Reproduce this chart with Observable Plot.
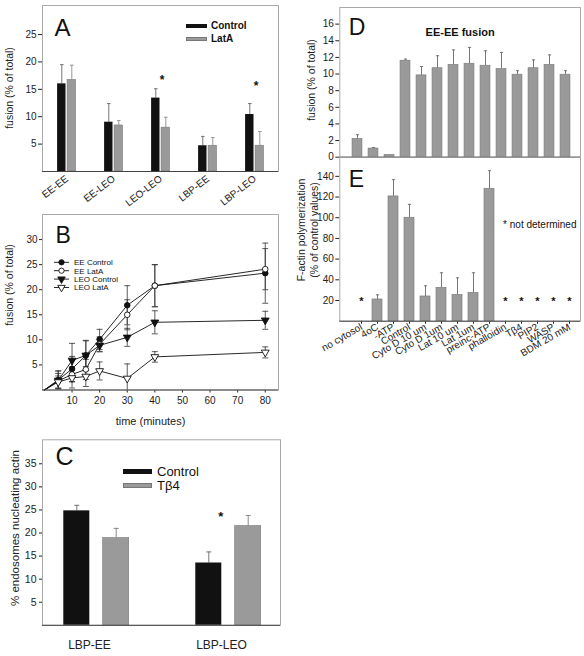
<!DOCTYPE html>
<html><head><meta charset="utf-8">
<script src="https://cdn.jsdelivr.net/npm/d3@7"></script>
<script src="https://cdn.jsdelivr.net/npm/@observablehq/plot@0.6"></script>
<style>
body{margin:0;background:#fff;}
#fig{position:relative;width:584px;height:656px;background:#fff;font-family:"Liberation Sans",Arial,Helvetica,sans-serif;color:#222;overflow:hidden}
.lg{position:absolute;white-space:nowrap}
.vl{position:absolute;white-space:pre;text-align:center;transform:translate(-50%,-50%) rotate(-90deg);color:#222}
</style></head><body><div id="fig"></div>
<script>
// ---------- Panel A data ----------
const groupsA = ["EE-EE","EE-LEO","LEO-LEO","LBP-EE","LBP-LEO"];
const controlA = [16.0, 9.0, 13.4, 4.7, 10.4];
const controlErrA = [3.5, 3.4, 1.7, 1.7, 2.0];
const latA = [16.7, 8.4, 8.0, 4.7, 4.7];
const latErrA = [2.7, 0.9, 1.9, 1.5, 2.6];
const starA = [null, null, 17.3, null, 16.2];

// ---------- Panel B data ----------
const timesB = [5, 10, 15, 20, 30, 40, 80];
const eeControl = [2.0, 4.2, 6.9, 10.1, 16.9, 20.8, 23.3];
const eeControlErr = [1.8, 2.5, 3.0, 2.0, 3.9, 4.2, 6.0];
const eeLatA = [1.8, 3.1, 4.1, 9.1, 15.0, 20.8, 24.1];
const eeLatAErr = [1.5, 1.5, 2.0, 1.5, 3.0, 4.2, 4.1];
const leoControl = [1.9, 5.9, 6.9, 8.9, 10.5, 13.5, 13.9];
const leoControlErr = [1.9, 3.4, 2.9, 1.2, 1.8, 2.3, 1.8];
const leoLatA = [1.6, 2.4, 2.7, 3.8, 2.3, 6.6, 7.5];
const leoLatAErr = [1.2, 2.0, 2.0, 1.8, 2.9, 1.05, 1.1];

// ---------- Panel C data ----------
const groupsC = ["LBP-EE","LBP-LEO"];
const controlC = [24.8, 13.5];
const controlErrC = [1.2, 2.4];
const tb4C = [18.9, 21.5];
const tb4ErrC = [2.1, 2.3];
const starC = [null, 24.1];

// ---------- Panels D / E data ----------
const catsDE = ["no cytosol","4oC","-ATP","Control","Cyto D 10 um","Cyto D 1um","Lat 10 um","Lat 1um","preinc-ATP","phalloidin","Tβ4","PIP2","WASP","BDM 20 mM"];
const fusionD = [2.2, 1.04, 0.28, 11.6, 9.84, 10.7, 11.1, 11.24, 11.0, 10.6, 9.92, 10.7, 11.1, 9.92];
const fusionErrD = [0.5, 0.12, 0, 0.2, 1.06, 1.5, 1.8, 1.96, 1.8, 2.0, 0.48, 1.0, 1.2, 0.48];
const actinE = [null, 21, 120.6, 100, 23.9, 32.3, 25.5, 27.4, 128, null, null, null, null, null];
const actinErrE = [null, 4.5, 16.2, 12.9, 10.3, 14.5, 16.4, 19.4, 17.5, null, null, null, null, null];

// ---------- helpers ----------
const fig = document.getElementById("fig");
const FONT = '"Liberation Sans", Arial, Helvetica, sans-serif';
const GRAY = "#9a9a9a", GRAYS = "#777", FRAME = "#aaa", AXIS = "#444", WHISK = "#777";
function place(svg, left, top) {
  svg.style.position = "absolute"; svg.style.left = left + "px"; svg.style.top = top + "px";
  svg.style.maxWidth = "none"; svg.style.background = "transparent"; svg.style.overflow = "visible";
  fig.appendChild(svg);
}
const capSym = {draw(ctx, size) { const r = Math.sqrt(size / Math.PI); ctx.moveTo(-r, 0); ctx.lineTo(r, 0); }};
function ins(bw, off, w) { return {insetLeft: bw / 2 + off - w / 2, insetRight: bw / 2 - off - w / 2}; }
function vLabel(t, cx, cy, fs, lh) {
  const d = document.createElement("div");
  d.className = "vl"; d.textContent = t;
  Object.assign(d.style, {left: cx + "px", top: cy + "px", fontSize: fs + "px", lineHeight: (lh || fs * 1.2) + "px"});
  fig.appendChild(d);
}
function letter(t, dx, dy, fs) { return Plot.text([t], {text: d => d, frameAnchor: "top-left", textAnchor: "start", lineAnchor: "top", dx, dy, fontSize: fs, fill: "#111"}); }
function errMarks(rows, x, v, e, off, color, capR) {
  return [
    Plot.ruleX(rows.filter(d => d[e] > 0), {x, y1: v, y2: d => d[v] + d[e], dx: off, stroke: color, strokeWidth: 1}),
    Plot.dot(rows.filter(d => d[e] > 0), {x, y: d => d[v] + d[e], dx: off, symbol: capSym, r: capR, stroke: color, strokeWidth: 1})
  ];
}
function legendSwatch(left, top, w, h, color, border) {
  const d = document.createElement("div");
  d.className = "lg"; Object.assign(d.style, {left: left + "px", top: top + "px", width: w + "px", height: h + "px", background: color, boxSizing: "border-box", border: border ? "1px solid " + border : "none"});
  fig.appendChild(d);
}
function legendText(left, cy, text, fs, weight) {
  const d = document.createElement("div");
  d.className = "lg"; d.textContent = text;
  Object.assign(d.style, {left: left + "px", top: (cy - fs * 0.6) + "px", fontSize: fs + "px", lineHeight: (fs * 1.2) + "px", fontWeight: weight || "normal", color: "#111"});
  fig.appendChild(d);
}

// ---------- Panel A ----------
const rowsA = groupsA.map((g, i) => ({g, ctl: controlA[i], ctlErr: controlErrA[i], lat: latA[i], latErr: latErrA[i], star: starA[i]}));
const bwA = (278 - 42) / groupsA.length;
place(Plot.plot({
  width: 290, height: 215, marginLeft: 42, marginRight: 12, marginTop: 5, marginBottom: 44,
  style: {fontFamily: FONT, fontSize: "10px", color: "#222"},
  x: {domain: groupsA, padding: 0, label: null, tickRotate: -38, tickSize: 0, tickPadding: 6},
  y: {domain: [0, 30.3], label: null, ticks: [5, 10, 15, 20, 25], tickSize: 4, tickPadding: 2},
  marks: [
    Plot.frame({stroke: FRAME}),
    ...errMarks(rowsA, "g", "ctl", "ctlErr", -5.2, WHISK, 1.8),
    ...errMarks(rowsA, "g", "lat", "latErr", 4.8, "#999", 1.8),
    Plot.barY(rowsA, {x: "g", y: "ctl", fill: "#111", ...ins(bwA, -5.2, 8.6)}),
    Plot.barY(rowsA, {x: "g", y: "lat", fill: GRAY, stroke: GRAYS, strokeWidth: 0.6, ...ins(bwA, 4.8, 8.6)}),
    Plot.text(rowsA.filter(d => d.star != null), {x: "g", y: "star", text: () => "*", dx: 1, dy: 3, fontSize: 12, fontWeight: "bold", fill: "#111"}),
    Plot.ruleY([0], {stroke: AXIS}),
    letter("A", 12, 13.3, 24)
  ]
}), 0, 0);
vLabel("fusion (% of total)", 9, 88, 10.5);
legendSwatch(186, 24, 21, 4, "#111");
legendText(211, 26, "Control", 10, "bold");
legendSwatch(186, 37, 21, 4, GRAY, GRAYS);
legendText(211, 39, "LatA", 10, "bold");

// ---------- Panel B ----------
const seriesB = [
  {name: "EE Control", v: eeControl, e: eeControlErr, symbol: "circle", fill: "#111", rotate: 0},
  {name: "EE LatA", v: eeLatA, e: eeLatAErr, symbol: "circle", fill: "white", rotate: 0},
  {name: "LEO Control", v: leoControl, e: leoControlErr, symbol: "triangle", fill: "#111", rotate: 180},
  {name: "LEO LatA", v: leoLatA, e: leoLatAErr, symbol: "triangle", fill: "white", rotate: 180}
];
const ptsB = seriesB.flatMap(s => timesB.map((t, i) => ({s: s.name, t, v: s.v[i], e: s.e[i]})));
const linesB = seriesB.flatMap(s => [{s: s.name, t: 0, v: 0}, ...timesB.map((t, i) => ({s: s.name, t, v: s.v[i]}))]);
place(Plot.plot({
  width: 290, height: 235, marginLeft: 42, marginRight: 12, marginTop: 14, marginBottom: 45.5,
  style: {fontFamily: FONT, fontSize: "10px", color: "#222"},
  x: {domain: [-0.7, 84.8], ticks: [10, 20, 30, 40, 50, 60, 70, 80], tickSize: 3, tickPadding: 4, label: null},
  y: {domain: [0, 35], ticks: [5, 10, 15, 20, 25, 30], tickSize: 3, tickPadding: 2, label: null},
  marks: [
    Plot.frame({stroke: FRAME}),
    Plot.line(linesB, {x: "t", y: "v", z: "s", stroke: "#111", strokeWidth: 0.9}),
    Plot.ruleX(ptsB, {x: "t", y1: d => d.v - d.e, y2: d => d.v + d.e, stroke: "#333", strokeWidth: 0.8, clip: true}),
    Plot.dot(ptsB, {x: "t", y: d => d.v + d.e, symbol: capSym, r: 3, stroke: "#333", strokeWidth: 0.8}),
    Plot.dot(ptsB.filter(d => d.v - d.e > 0), {x: "t", y: d => d.v - d.e, symbol: capSym, r: 3, stroke: "#333", strokeWidth: 0.8}),
    ...seriesB.map(s => Plot.dot(ptsB.filter(d => d.s === s.name), {x: "t", y: "v", symbol: s.symbol, rotate: s.rotate, r: s.symbol === "circle" ? 2.8 : 2.9, fill: s.fill, stroke: "#111", strokeWidth: 0.9})),
    Plot.ruleY([0], {stroke: AXIS}),
    Plot.text(["time (minutes)"], {text: d => d, frameAnchor: "bottom", dy: 35, dx: -10, fontSize: 11, fill: "#222"}),
    letter("B", 13, 11.7, 23)
  ]
}), 0, 200);
vLabel("fusion (% of total)", 9, 285, 10.5);
// legend B
(function () {
  const svg = d3.create("svg").attr("width", 90).attr("height", 40)
    .style("position", "absolute").style("left", "50px").style("top", "255px").style("overflow", "visible");
  seriesB.forEach((s, i) => {
    const y = 7.3 + i * 8.4;
    svg.append("line").attr("x1", 4).attr("x2", 19).attr("y1", y).attr("y2", y).attr("stroke", "#111").attr("stroke-width", 0.9);
    const sym = s.symbol === "circle" ? d3.symbolCircle : d3.symbolTriangle;
    svg.append("path").attr("d", d3.symbol(sym, s.symbol === "circle" ? 22 : 24)())
      .attr("transform", `translate(11.5,${y}) rotate(${s.rotate})`).attr("fill", s.fill).attr("stroke", "#111").attr("stroke-width", 0.9);
    svg.append("text").attr("x", 24).attr("y", y).attr("dy", "0.35em").attr("font-size", 8).attr("font-family", FONT).attr("fill", "#111").text(s.name);
  });
  fig.appendChild(svg.node());
})();

// ---------- Panel C ----------
const rowsC = groupsC.map((g, i) => ({g, ctl: controlC[i], ctlErr: controlErrC[i], tb: tb4C[i], tbErr: tb4ErrC[i], star: starC[i]}));
const bwC = 132;
place(Plot.plot({
  width: 290, height: 226, marginLeft: 42, marginRight: 10, marginTop: 9.3, marginBottom: 31.2,
  style: {fontFamily: FONT, fontSize: "10.5px", color: "#222"},
  x: {domain: groupsC, range: [29.8, 29.8 + 2 * bwC], padding: 0, label: null},
  y: {domain: [0, 40.2], ticks: [5, 10, 15, 20, 25, 30, 35], tickSize: 3, tickPadding: 3, label: null},
  marks: [
    Plot.frame({stroke: FRAME}),
    ...errMarks(rowsC, "g", "ctl", "ctlErr", -19.7, WHISK, 2.5),
    ...errMarks(rowsC, "g", "tb", "tbErr", 19.7, "#888", 2.5),
    Plot.barY(rowsC, {x: "g", y: "ctl", fill: "#111", ...ins(bwC, -19.7, 26)}),
    Plot.barY(rowsC, {x: "g", y: "tb", fill: GRAY, stroke: GRAYS, strokeWidth: 0.6, ...ins(bwC, 19.7, 26)}),
    Plot.text(rowsC.filter(d => d.star != null), {x: "g", y: "star", text: () => "*", dx: -7.8, dy: 3, fontSize: 13, fontWeight: "bold", fill: "#111"}),
    Plot.ruleY([0], {stroke: AXIS}),
    Plot.axisX({tickSize: 0, tickPadding: 15, fontSize: 12, dx: -7, label: null}),
    letter("C", 13, 7.4, 25)
  ]
}), 0, 430);
vLabel("% endosomes nucleating actin", 16, 528, 11.5);
legendSwatch(123, 468.5, 29, 5.5, "#111");
legendText(157, 471.5, "Control", 13);
legendSwatch(123, 482.5, 29, 5.5, GRAY, GRAYS);
legendText(157, 485.5, "Tβ4", 13);

// ---------- Panel D ----------
const rowsD = catsDE.map((c, i) => ({c, v: fusionD[i], e: fusionErrD[i]}));
const bwD = (283.04 - 57.96) / catsDE.length;
place(Plot.plot({
  width: 294, height: 160, marginLeft: 49.3, marginRight: 4, marginTop: 7, marginBottom: 3.3,
  style: {fontFamily: FONT, fontSize: "10px", color: "#222"},
  x: {domain: catsDE, range: [57.96, 283.04], padding: 0, axis: null},
  y: {domain: [0, 18], ticks: d3.range(0, 17, 2), tickSize: 4, tickPadding: 2, label: null},
  marks: [
    Plot.frame({stroke: FRAME}),
    ...errMarks(rowsD, "c", "v", "e", 0, WHISK, 1.6),
    Plot.barY(rowsD, {x: "c", y: "v", fill: GRAY, stroke: GRAYS, strokeWidth: 0.6, ...ins(bwD, 0, 10)}),
    Plot.ruleY([0], {stroke: AXIS}),
    Plot.text(["EE-EE fusion"], {text: d => d, frameAnchor: "top", dy: 21, fontSize: 11, fontWeight: "bold", fill: "#111"}),
    letter("D", 9, 11.3, 23)
  ]
}), 290, 0);
vLabel("fusion (% of total)", 311, 80, 10.5);

// ---------- Panel E ----------
const rowsE = catsDE.map((c, i) => ({c, v: actinE[i], e: actinErrE[i]}));
const bwE = (291.7 - 58.3) / catsDE.length;
place(Plot.plot({
  width: 294, height: 250, marginLeft: 49.3, marginRight: 4, marginTop: 6.7, marginBottom: 79.3,
  style: {fontFamily: FONT, fontSize: "10px", color: "#222"},
  x: {domain: catsDE, range: [58.3, 291.7], padding: 0, label: null, tickRotate: -30, tickSize: 3, tickPadding: 2},
  y: {domain: [0, 158.5], ticks: [20, 40, 60, 80, 100, 120, 140], tickSize: 4, tickPadding: 2, label: null},
  marks: [
    Plot.frame({stroke: FRAME}),
    ...errMarks(rowsE.filter(d => d.v != null), "c", "v", "e", 0, WHISK, 1.6),
    Plot.barY(rowsE.filter(d => d.v != null), {x: "c", y: "v", fill: GRAY, stroke: GRAYS, strokeWidth: 0.6, ...ins(bwE, 0, 10.7)}),
    Plot.text(rowsE.filter(d => d.v == null), {x: "c", y: () => 22, text: () => "*", dy: 3, fontSize: 11, fontWeight: "bold", fill: "#111"}),
    Plot.ruleY([0], {stroke: AXIS}),
    Plot.text(["* not determined"], {text: d => d, frameAnchor: "top-right", textAnchor: "end", dx: -4, dy: 64, fontSize: 10, fill: "#111"}),
    letter("E", 9, 13.3, 23)
  ]
}), 290, 150);
vLabel("F-actin polymerization\n(% of control values)", 308, 230, 10.5, 13);
</script>
</body></html>
